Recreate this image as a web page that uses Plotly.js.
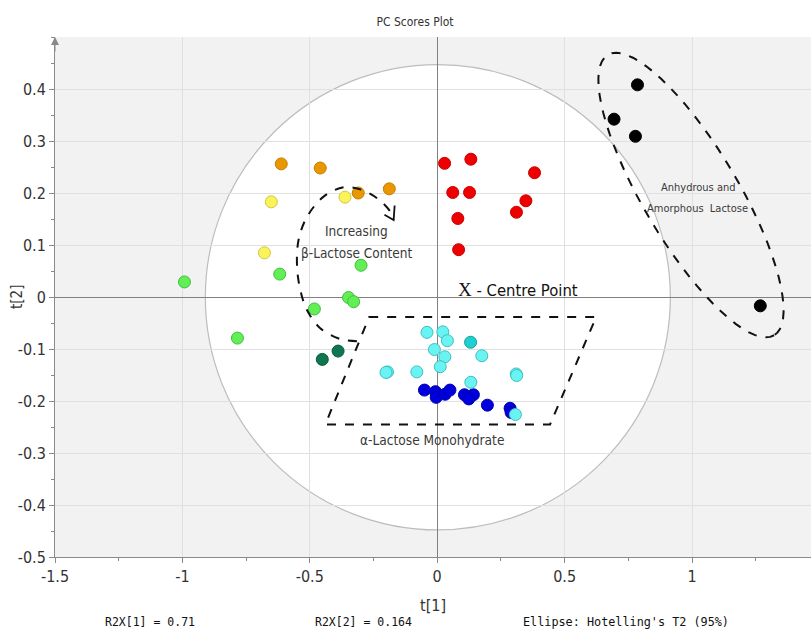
<!DOCTYPE html>
<html><head><meta charset="utf-8">
<script src="https://cdn.plot.ly/plotly-3.0.1.min.js"></script>
<style>html,body{margin:0;padding:0;background:#fff}</style>
</head><body><div id="chart" style="width:811px;height:632px"></div>
<script>
// ---- data (t[1], t[2] scores) ----
const orangeX=[-0.612,-0.459,-0.310,-0.188];
const orangeY=[0.256,0.248,0.200,0.208];
const yellowX=[-0.651,-0.362,-0.678];
const yellowY=[0.183,0.192,0.085];
const lgreenX=[-0.992,-0.618,-0.299,-0.348,-0.328,-0.482,-0.784];
const lgreenY=[0.029,0.044,0.061,-0.001,-0.009,-0.023,-0.079];
const dgreenX=[-0.451,-0.389];
const dgreenY=[-0.120,-0.104];
const redX=[0.029,0.132,0.382,0.061,0.127,0.348,0.311,0.081,0.084];
const redY=[0.257,0.265,0.239,0.201,0.201,0.185,0.163,0.151,0.091];
const blueX=[-0.050,-0.007,-0.004,0.031,0.050,0.107,0.142,0.124,0.197,0.286,0.290];
const blueY=[-0.179,-0.182,-0.193,-0.187,-0.179,-0.188,-0.188,-0.196,-0.208,-0.214,-0.222];
const cyanX=[-0.040,0.022,0.040,-0.011,0.030,0.175,0.012,-0.195,-0.201,-0.080,0.310,0.312,0.132,0.307];
const cyanY=[-0.068,-0.067,-0.084,-0.101,-0.115,-0.113,-0.134,-0.144,-0.145,-0.144,-0.148,-0.151,-0.164,-0.226];
const tealX=[0.131];
const tealY=[-0.087];
const blackX=[0.786,0.694,0.778,1.268];
const blackY=[0.408,0.342,0.309,-0.017];

const xTickVals=[-1.5,-1,-0.5,0,0.5,1];
const xTickText=["-1.5","-1","-0.5","0","0.5","1"];
const yTickVals=[-0.5,-0.4,-0.3,-0.2,-0.1,0,0.1,0.2,0.3,0.4];
const yTickText=["-0.5","-0.4","-0.3","-0.2","-0.1","0","0.1","0.2","0.3","0.4"];

const NARROW='"DejaVu Sans Condensed", "Liberation Sans Narrow", Arial, sans-serif';
const MONO='"DejaVu Sans Mono", "Liberation Mono", monospace';

function pts(x,y,fill,line){
  return {type:'scatter',mode:'markers',x:x,y:y,hoverinfo:'skip',showlegend:false,
    marker:{size:12,color:fill,line:{color:line,width:1}}};
}
const traces=[
  pts(orangeX,orangeY,'#e99700','#c77d00'),
  pts(yellowX,yellowY,'#fbf35a','#d6c640'),
  pts(lgreenX,lgreenY,'#62ee55','#3fbf3f'),
  pts(dgreenX,dgreenY,'#0f7650','#0a5a3c'),
  pts(redX,redY,'#ee0000','#c80000'),
  pts(blueX,blueY,'#0000dd','#0000aa'),
  pts(cyanX,cyanY,'#6af3f3','#3cc0c0'),
  pts(tealX,tealY,'#1fd0d0','#119f9f'),
  pts(blackX,blackY,'#000000','#000000')
];

// curved "Increasing" arrow (decoration)
traces.push({type:'scatter',mode:'lines',hoverinfo:'skip',showlegend:false,
  x:[-0.315,-0.380,-0.459,-0.511,-0.537,-0.550,-0.544,-0.511,-0.446,-0.367,-0.302,-0.236,-0.184,-0.171],
  y:[-0.085,-0.081,-0.060,-0.025,0.013,0.058,0.110,0.154,0.193,0.211,0.207,0.190,0.164,0.148],
  line:{color:'#111',width:2,dash:'dash',shape:'spline'}});

// rotated dashed ellipse around anhydrous group
const pxX=756/2.967, pxY=520;
const cx=0.996, cy=0.196, A=163, B=47.5, th=Math.atan2(140,83);
let path='';
for(let i=0;i<=72;i++){
  const t=i/72*2*Math.PI;
  const u=A*Math.cos(t), v=B*Math.sin(t);
  const dx=u*Math.cos(th)-v*Math.sin(th), dy=u*Math.sin(th)+v*Math.cos(th);
  const X=cx+dx/pxX, Y=cy-dy/pxY;
  path+=(i===0?'M':'L')+X.toFixed(4)+','+Y.toFixed(4);
}
path+='Z';

const fy=(557-622)/520;
const layout={
  width:811,height:632,
  margin:{l:55,r:0,t:37,b:75},
  paper_bgcolor:'#ffffff',plot_bgcolor:'#f2f2f2',
  title:{text:'PC Scores Plot',x:415/811,xref:'container',y:0.972,yref:'container',xanchor:'center',
    font:{family:NARROW,size:12,color:'#333'}},
  xaxis:{range:[-1.5,1.467],tickmode:'array',tickvals:xTickVals,ticktext:xTickText,
    showgrid:true,gridcolor:'#e0e0e0',gridwidth:1,zeroline:true,zerolinecolor:'#808080',zerolinewidth:1,
    showline:true,linecolor:'#8a8a8a',linewidth:1,ticks:'outside',ticklen:5,tickcolor:'#8a8a8a',
    minor:{tickmode:'linear',tick0:0,dtick:0.25,ticks:'outside',ticklen:3,tickcolor:'#8a8a8a',showgrid:false},
    tickfont:{family:NARROW,size:16,color:'#333'},
    title:{text:'t[1]',standoff:14,font:{family:NARROW,size:16,color:'#333'}},fixedrange:true},
  yaxis:{range:[-0.5,0.5],tickmode:'array',tickvals:yTickVals,ticktext:yTickText,
    showgrid:true,gridcolor:'#e0e0e0',gridwidth:1,zeroline:true,zerolinecolor:'#808080',zerolinewidth:1,
    showline:true,linecolor:'#8a8a8a',linewidth:1,ticks:'outside',ticklen:5,tickcolor:'#8a8a8a',
    minor:{tickmode:'linear',tick0:0,dtick:0.05,ticks:'outside',ticklen:3,tickcolor:'#8a8a8a',showgrid:false},
    tickfont:{family:NARROW,size:16,color:'#333'},
    title:{text:'',font:{family:NARROW,size:15,color:'#333'}},fixedrange:true},
  shapes:[
    {type:'circle',layer:'below',xref:'x',yref:'y',x0:-0.91,x1:0.915,y0:-0.448,y1:0.447,
      fillcolor:'#ffffff',line:{color:'#bdbdbd',width:1.2}},
    {type:'path',xref:'x',yref:'y',layer:'above',
      path:'M-0.267,-0.0385 L0.624,-0.0385 L0.443,-0.245 L-0.439,-0.245 Z',
      line:{color:'#111',width:2,dash:'dash'}},
    {type:'path',xref:'x',yref:'y',layer:'above',path:path,line:{color:'#111',width:2,dash:'dash'}},
    {type:'path',xref:'x',yref:'y',layer:'above',
      path:'M-0.207,0.158 L-0.171,0.148 L-0.167,0.176',line:{color:'#111',width:1.8}}
  ],
  annotations:[
    {xref:'paper',yref:'paper',x:0,y:1,ax:0,ay:16,showarrow:true,arrowhead:2,arrowsize:1.6,arrowwidth:1,arrowcolor:'#888',text:''},
    {xref:'paper',yref:'paper',x:(17-55)/756,y:0.5,xanchor:'center',yanchor:'middle',textangle:-90,text:'t[2]',showarrow:false,font:{family:NARROW,size:15,color:'#333'}},
    {xref:'x',yref:'y',x:-0.318,y:0.127,text:'Increasing',showarrow:false,font:{family:NARROW,size:13.5,color:'#3a3a3a'}},
    {xref:'x',yref:'y',x:-0.318,y:0.085,text:'β-Lactose Content',showarrow:false,font:{family:NARROW,size:13.5,color:'#3a3a3a'}},
    {xref:'x',yref:'y',x:0.317,y:0.014,text:'<span style="font-family:\'Liberation Serif\', serif;font-size:19px">X</span> - Centre Point',showarrow:false,font:{family:NARROW,size:16.5,color:'#111'}},
    {xref:'x',yref:'y',x:-0.020,y:-0.275,text:'α-Lactose Monohydrate',showarrow:false,font:{family:NARROW,size:13.6,color:'#3a3a3a'}},
    {xref:'x',yref:'y',x:1.024,y:0.2115,text:'Anhydrous and',showarrow:false,font:{family:NARROW,size:11,color:'#3a3a3a'}},
    {xref:'x',yref:'y',x:1.020,y:0.171,text:'Amorphous  Lactose',showarrow:false,font:{family:NARROW,size:11,color:'#3a3a3a'}},
    {xref:'paper',yref:'paper',xanchor:'center',yanchor:'middle',x:(150-55)/756,y:fy,text:'R2X[1] = 0.71',showarrow:false,font:{family:MONO,size:11.5,color:'#111'}},
    {xref:'paper',yref:'paper',xanchor:'center',yanchor:'middle',x:(363-55)/756,y:fy,text:'R2X[2] = 0.164',showarrow:false,font:{family:MONO,size:11.5,color:'#111'}},
    {xref:'paper',yref:'paper',xanchor:'center',yanchor:'middle',x:(626-55)/756,y:fy,text:'Ellipse: Hotelling\'s T2 (95%)',showarrow:false,font:{family:MONO,size:11.8,color:'#111'}}
  ]
};
Plotly.newPlot('chart',traces,layout,{displayModeBar:false,staticPlot:true});
</script></body></html>
